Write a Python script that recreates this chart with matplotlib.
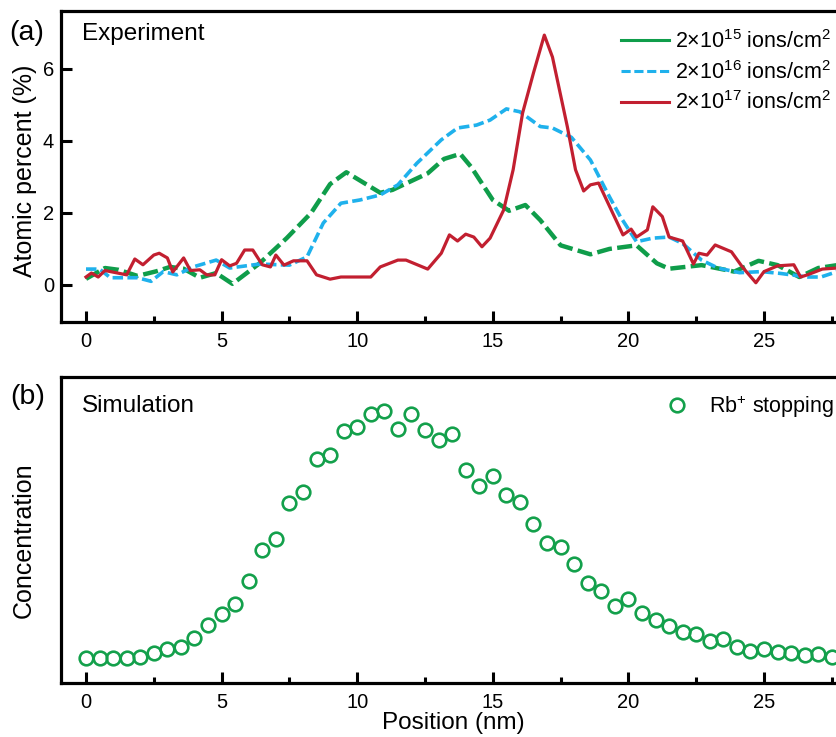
import matplotlib
matplotlib.use("Agg")
import matplotlib.pyplot as plt
from matplotlib.lines import Line2D
from matplotlib.ticker import MultipleLocator

plt.rcParams['font.family'] = ['Liberation Sans', 'DejaVu Sans']
plt.rcParams['mathtext.fontset'] = 'custom'
plt.rcParams['mathtext.rm'] = 'Liberation Sans'
plt.rcParams['mathtext.it'] = 'Liberation Sans'

# ---- Experiment data (atomic percent vs position in nm) ----
x_e15 = [0, 0.7, 1.2, 1.9, 2.6, 3.1, 3.6, 4.2, 4.8, 5.4, 6.4, 7.4, 8.3, 9.0, 9.6,
         10.85, 11.3, 12.6, 13.2, 13.8, 14.2, 15.0, 15.6, 16.2, 16.75, 17.5, 18.6,
         19.3, 20.3, 21.05, 21.5, 22.7, 23.9, 24.8, 25.5, 26.3, 27.0, 27.7]
y_e15 = [0.17, 0.47, 0.42, 0.25, 0.38, 0.5, 0.45, 0.2, 0.33, 0.03, 0.6, 1.3, 2.0, 2.8, 3.13,
         2.56, 2.64, 3.1, 3.5, 3.64, 3.28, 2.36, 2.06, 2.22, 1.8, 1.1, 0.85,
         1.0, 1.1, 0.6, 0.45, 0.55, 0.37, 0.67, 0.55, 0.22, 0.47, 0.55]

x_e16 = [0, 0.5, 0.9, 1.9, 2.4, 2.85, 3.35, 3.95, 4.8, 5.3, 6.4, 7.5, 8.15, 8.75, 9.4,
         10.1, 10.85, 11.5, 12.2, 13.1, 13.7, 14.4, 14.9, 15.5, 16.0, 16.75, 17.2, 17.9,
         18.6, 19.3, 19.7, 20.3, 20.9, 21.5, 22.0, 22.7, 23.3, 24.1, 24.9, 25.6, 26.6,
         27.1, 27.7]
y_e16 = [0.44, 0.44, 0.2, 0.2, 0.1, 0.37, 0.28, 0.5, 0.69, 0.47, 0.58, 0.55, 0.78, 1.72, 2.27,
         2.36, 2.5, 2.78, 3.38, 4.03, 4.36, 4.44, 4.58, 4.89, 4.81, 4.4, 4.36, 4.1,
         3.47, 2.45, 1.9, 1.2, 1.3, 1.33, 1.15, 0.69, 0.47, 0.34, 0.37, 0.32, 0.22,
         0.22, 0.37]

x_e17 = [0, 0.2, 0.45, 0.7, 1.5, 1.8, 2.1, 2.5, 2.7, 3.0, 3.2, 3.6, 3.85, 4.2, 4.45,
         4.75, 5.0, 5.3, 5.55, 5.85, 6.15, 6.5, 6.8, 7.0, 7.3, 7.65, 8.15, 8.5, 9.0,
         9.4, 10.5, 10.85, 11.5, 11.8, 12.6, 13.1, 13.4, 13.7, 14.0, 14.3, 14.6, 14.9,
         15.4, 15.75, 16.1, 16.5, 16.9, 17.2, 17.75, 18.05, 18.35, 18.6, 18.9, 19.8,
         20.1, 20.3, 20.7, 20.9, 21.25, 21.5, 22.0, 22.4, 22.6, 22.9, 23.2, 23.8, 24.2,
         24.7, 25.0, 25.5, 26.1, 26.35, 26.6, 27.15, 27.7]
y_e17 = [0.22, 0.33, 0.22, 0.4, 0.28, 0.72, 0.56, 0.83, 0.88, 0.75, 0.36, 0.75, 0.4, 0.42, 0.28,
         0.28, 0.7, 0.53, 0.6, 0.97, 0.97, 0.56, 0.5, 0.83, 0.55, 0.67, 0.67, 0.28, 0.16,
         0.22, 0.22, 0.5, 0.69, 0.69, 0.44, 0.88, 1.39, 1.22, 1.41, 1.33, 1.06, 1.3,
         2.08, 3.2, 4.78, 5.89, 6.94, 6.33, 4.39, 3.2, 2.61, 2.78, 2.83, 1.39,
         1.55, 1.33, 1.53, 2.17, 1.9, 1.33, 1.22, 0.58, 0.88, 0.83, 1.11, 0.92, 0.5,
         0.06, 0.37, 0.53, 0.56, 0.22, 0.28, 0.44, 0.47]

labels_exp = [r'2×10$^{15}$ ions/cm$^{2}$', r'2×10$^{16}$ ions/cm$^{2}$',
              r'2×10$^{17}$ ions/cm$^{2}$']

# ---- Simulation data (normalized concentration) ----
x_sim = [i * 0.5 for i in range(56)]
y_sim = [0.091, 0.091, 0.091, 0.091, 0.097, 0.109, 0.124, 0.131, 0.164, 0.213,
         0.253, 0.290, 0.376, 0.488, 0.528, 0.660, 0.700, 0.822, 0.837, 0.927,
         0.941, 0.987, 1.000, 0.932, 0.987, 0.929, 0.892, 0.914, 0.782, 0.725,
         0.760, 0.690, 0.666, 0.584, 0.513, 0.501, 0.437, 0.366, 0.338, 0.283,
         0.307, 0.256, 0.231, 0.209, 0.188, 0.180, 0.154, 0.160, 0.133, 0.119,
         0.125, 0.114, 0.109, 0.103, 0.105, 0.097]

x_ticks = [0, 5, 10, 15, 20, 25]
y_ticks_top = [0, 2, 4, 6]

GREEN = '#0f9d4a'
BLUE = '#1fb1ec'
RED = '#c21f30'
MGREEN = '#13a04b'

W, H = 837, 737
fig = plt.figure(figsize=(W / 100, H / 100), dpi=100)

def px_axes(l, t, r, b):
    return fig.add_axes([l / W, 1 - b / H, (r - l) / W, (b - t) / H])

ax1 = px_axes(61, 11, 842, 322)
ax2 = px_axes(61, 377, 842, 683)

x0, ppu = 86.0, 27.12
xlim = ((61 - x0) / ppu, (842 - x0) / ppu)

ax1.plot(x_e15, y_e15, color=GREEN, lw=3.2, dashes=(3.4, 1.2))
ax1.plot(x_e16, y_e16, color=BLUE, lw=2.6, dashes=(2.9, 1.2))
ax1.plot(x_e17, y_e17, color=RED, lw=2.3)
ax1.set_xlim(*xlim)
ax1.set_ylim(-1.03, 7.61)
ax1.set_yticks(y_ticks_top)

ax2.plot(x_sim, y_sim, ls='none', marker='o', ms=9.8, mfc='none', mec=MGREEN, mew=1.9)
ax2.set_xlim(*xlim)
ax2.set_ylim(0, 1.124)
ax2.set_yticks([])

for ax in (ax1, ax2):
    ax.set_xticks(x_ticks)
    ax.xaxis.set_minor_locator(MultipleLocator(2.5))
    for s in ax.spines.values():
        s.set_linewidth(2.3)
    ax.spines['right'].set_visible(False)
    ax.tick_params(axis='both', which='major', direction='in', length=8, width=2.2,
                   labelsize=14.5, top=False, right=False)
    ax.tick_params(axis='x', which='major', pad=7)
    ax.tick_params(axis='y', which='major', pad=5)
    ax.tick_params(axis='x', which='minor', direction='in', length=4, width=2.2, top=False)

# legends
h15 = Line2D([], [], color=GREEN, lw=2.2)
h16 = Line2D([], [], color=BLUE, lw=2.2, dashes=(3.0, 1.2))
h17 = Line2D([], [], color=RED, lw=2.2)
fig.legend([h15, h16, h17], labels_exp, loc='upper left',
           bbox_to_anchor=(621 / W, 1 - 30 / H), bbox_transform=fig.transFigure,
           frameon=False, fontsize=15.5, handlelength=2.25, handletextpad=0.25,
           labelspacing=0.36, borderpad=0, borderaxespad=0)

hs = Line2D([], [], ls='none', marker='o', ms=9.8, mfc='none', mec=MGREEN, mew=1.9)
fig.legend([hs], [r'Rb$^{+}$ stopping'], loc='upper left',
           bbox_to_anchor=(666 / W, 1 - 393 / H), bbox_transform=fig.transFigure,
           frameon=False, fontsize=15.5, handlelength=1.0, handletextpad=1.0,
           borderpad=0, borderaxespad=0)

def ftext(x, y, s, **kw):
    fig.text(x / W, 1 - y / H, s, **kw)

ftext(9, 33, '(a)', fontsize=20.5, ha='left', va='center')
ftext(10, 397, '(b)', fontsize=20.5, ha='left', va='center')
ftext(82, 34, 'Experiment', fontsize=17.5, ha='left', va='center')
ftext(82, 406, 'Simulation', fontsize=17.5, ha='left', va='center')
ftext(25, 171, 'Atomic percent (%)', fontsize=18, rotation=90, ha='center', va='center')
ftext(24, 540, 'Concentration', fontsize=18, rotation=90, ha='center', va='center')
ftext(453, 729, 'Position (nm)', fontsize=17.5, ha='center', va='baseline')

fig.savefig('out.png', dpi=100)
